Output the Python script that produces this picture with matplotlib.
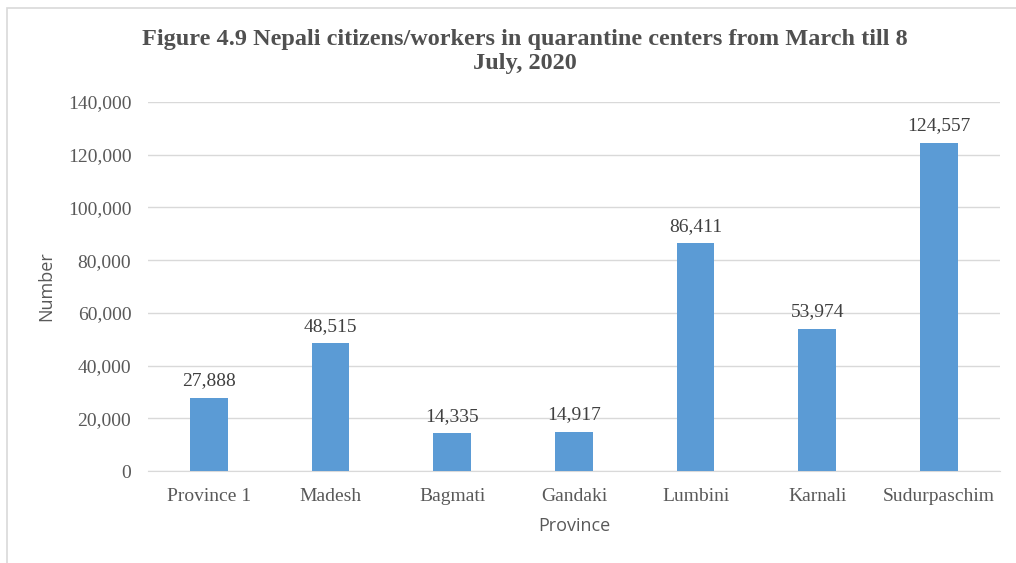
import matplotlib.pyplot as plt
from matplotlib.patches import Rectangle
from matplotlib.ticker import FuncFormatter

provinces = ['Province 1', 'Madesh', 'Bagmati', 'Gandaki', 'Lumbini', 'Karnali', 'Sudurpaschim']
counts = [27888, 48515, 14335, 14917, 86411, 53974, 124557]
yticks = [0, 20000, 40000, 60000, 80000, 100000, 120000, 140000]

text_col = '#595959'
serif = 'Liberation Serif'

fig = plt.figure(figsize=(10.16, 5.63), dpi=100)
ax = fig.add_axes([0.1457, 0.1634, 0.8383, 0.6554])

x = range(len(provinces))
ax.bar(x, counts, width=0.31, color='#5B9BD5', zorder=3)
for xi, v in zip(x, counts):
    ax.text(xi, v + 3200, f'{v:,}', ha='center', va='bottom',
            fontsize=14, family=serif, color='#404040')

ax.set_xlim(-0.5, len(provinces) - 0.5)
ax.set_ylim(0, 140000)
ax.set_yticks(yticks)
ax.yaxis.set_major_formatter(FuncFormatter(lambda v, p: f'{int(v):,}'))
ax.set_xticks(list(x))
ax.set_xticklabels(provinces)
for lab in ax.get_xticklabels() + ax.get_yticklabels():
    lab.set_family(serif)
    lab.set_fontsize(14)
    lab.set_color(text_col)
ax.tick_params(length=0)
ax.tick_params(axis='x', pad=12)
ax.tick_params(axis='y', pad=12)

ax.grid(axis='y', color='#D9D9D9', linewidth=1, zorder=0)
for s in ['top', 'right', 'left']:
    ax.spines[s].set_visible(False)
ax.spines['bottom'].set_color('#D9D9D9')

ax.set_ylabel('Number', fontsize=13, family='Open Sans', color=text_col, labelpad=9)
ax.set_xlabel('Province', fontsize=13, family='Open Sans', color=text_col, labelpad=9)

fig.text(0.517, 0.909, 'Figure 4.9 Nepali citizens/workers in quarantine centers from March till 8\nJuly, 2020',
         ha='center', va='center', fontsize=17.5, fontweight='bold', family=serif,
         color='#505050', linespacing=1.2)

fig.add_artist(Rectangle((0.007, -0.01), 1.2, 1.005 - 0.01, transform=fig.transFigure,
                         fill=False, edgecolor='#D9D9D9', linewidth=1.2))

fig.savefig('out.png', dpi=100)
